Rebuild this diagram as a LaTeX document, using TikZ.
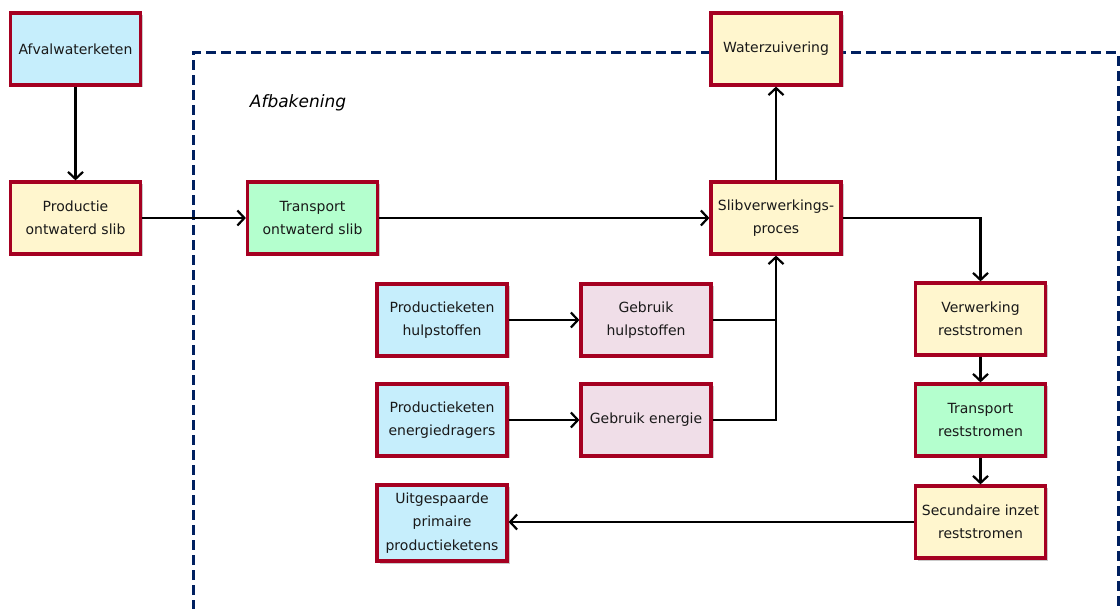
\documentclass[tikz,border=0pt]{standalone}
\usepackage{fontspec}
\setmainfont{DejaVu Sans}
\usetikzlibrary{arrows.meta,shadows}
\definecolor{bord}{RGB}{165,0,33}
\definecolor{fblue}{RGB}{198,238,252}
\definecolor{fyel}{RGB}{255,246,206}
\definecolor{fgrn}{RGB}{180,255,206}
\definecolor{fpink}{RGB}{240,222,232}
\definecolor{navy}{RGB}{0,32,96}
\tikzset{
  box/.style={draw=bord, line width=3.2pt, minimum width=130pt, minimum height=72pt,
    align=center, font=\fontsize{14}{23.5}\selectfont, inner sep=2pt, text=black!90,
    drop shadow={shadow xshift=2.5pt, shadow yshift=-2.5pt, opacity=0.35, fill=black!60}},
  bl/.style={box, fill=fblue},
  ye/.style={box, fill=fyel},
  gr/.style={box, fill=fgrn},
  pk/.style={box, fill=fpink},
  arr/.style={line width=2.2pt, -{Straight Barb[length=7pt,width=15pt,line width=2.2pt]}},
  ln/.style={line width=2.2pt}
}
\begin{document}
\begin{tikzpicture}[x=1pt,y=-1pt]
\useasboundingbox (0,0) rectangle (1120,609);
\begin{scope}
\clip (0,0) rectangle (1120,609);
\draw[navy, line width=3pt, dash pattern=on 10pt off 5pt] (193,640) -- (193,53) -- (1118,53) -- (1118,640);
\end{scope}
\node[font=\fontsize{17}{20}\selectfont\itshape] (afb) at (298,103) {Afbakening};

\node[bl] (afv) at (75.5,49) {Afvalwaterketen};
\node[ye] (prod) at (75.5,218) {Productie\\ontwaterd slib};
\node[gr] (trans) at (312.5,218) {Transport\\ontwaterd slib};
\node[ye] (wz) at (776,49) {Waterzuivering};
\node[ye] (slib) at (776,218) {Slibverwerkings-\\proces};
\node[bl] (ph) at (442,320) {Productieketen\\hulpstoffen};
\node[pk] (gh) at (646,320) {Gebruik\\hulpstoffen};
\node[bl] (pe) at (442,420) {Productieketen\\energiedragers};
\node[pk] (ge) at (646,420) {Gebruik energie};
\node[ye] (verw) at (980.5,319) {Verwerking\\reststromen};
\node[gr] (tr) at (980.5,420) {Transport\\reststromen};
\node[ye] (sec) at (980.5,522) {Secundaire inzet\\reststromen};
\node[bl, minimum height=76pt] (uit) at (442,523) {Uitgespaarde\\primaire\\productieketens};

\coordinate (j1) at (776,320);
\coordinate (j2) at (980.5,218);

\draw[arr] (afv) -- (prod);
\draw[arr] (prod) -- (trans);
\draw[arr] (trans) -- (slib);
\draw[arr] (slib) -- (wz);
\draw[arr] (slib.east) -- (j2) -- (verw);
\draw[arr] (ph) -- (gh);
\draw[arr] (pe) -- (ge);
\draw[ln] (gh.east) -- (j1);
\draw[arr] (ge.east) -| (slib.south);
\draw[arr] (verw) -- (tr);
\draw[arr] (tr) -- (sec);
\draw[arr] (sec.west) -- (sec.west -| uit.east);
\end{tikzpicture}
\end{document}
